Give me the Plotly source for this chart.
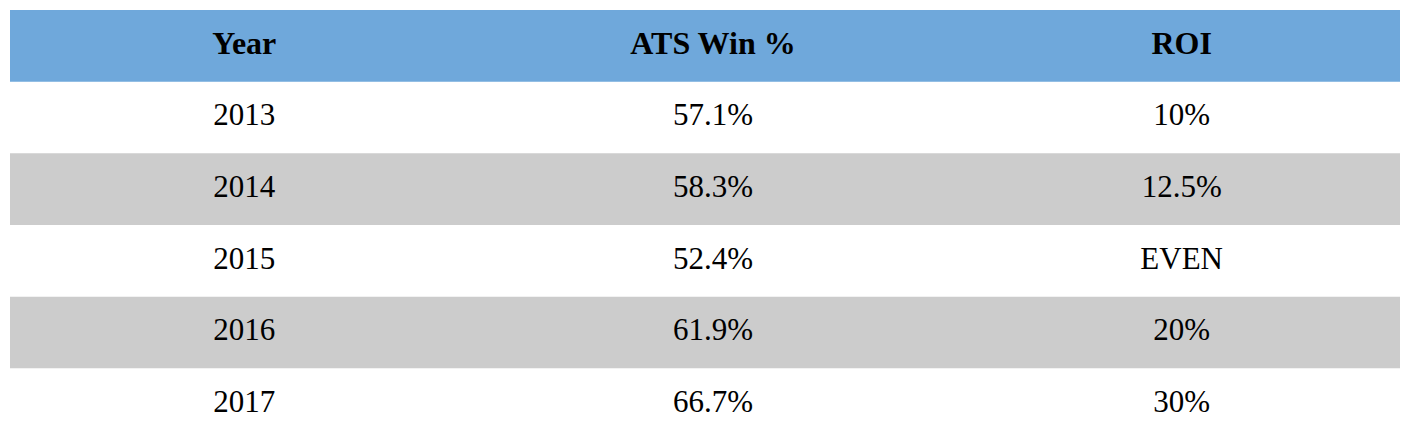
import plotly.graph_objects as go

headers = ["Year", "ATS Win %", "ROI"]
years = ["2013", "2014", "2015", "2016", "2017"]
ats_win = ["57.1%", "58.3%", "52.4%", "61.9%", "66.7%"]
roi = ["10%", "12.5%", "EVEN", "20%", "30%"]

columns = [years, ats_win, roi]
n_rows = len(years)

fig = go.Figure()

# row backgrounds: header blue, then alternating white / grey
fig.add_shape(type="rect", xref="paper", yref="y", x0=0, x1=1, y0=-0.5, y1=0.5,
              fillcolor="#6fa8db", line_width=0, layer="below")
for i in range(n_rows):
    if i % 2 == 1:
        fig.add_shape(type="rect", xref="paper", yref="y", x0=0, x1=1,
                      y0=i + 0.5, y1=i + 1.5, fillcolor="#cccccc",
                      line_width=0, layer="below")

# header text
fig.add_trace(go.Scatter(
    x=list(range(len(headers))), y=[0] * len(headers),
    text=["<b>%s</b>" % h for h in headers], mode="text",
    textfont=dict(family="Liberation Serif", size=32, color="black"),
    hoverinfo="skip", showlegend=False,
))

# body text
for c, col in enumerate(columns):
    fig.add_trace(go.Scatter(
        x=[c] * n_rows, y=list(range(1, n_rows + 1)),
        text=col, mode="text",
        textfont=dict(family="Liberation Serif", size=31, color="black"),
        hoverinfo="skip", showlegend=False,
    ))

fig.update_xaxes(range=[-0.5, 2.5], visible=False, fixedrange=True)
fig.update_yaxes(range=[n_rows + 0.5, -0.5], visible=False, fixedrange=True)

fig.update_layout(
    width=1408, height=432,
    margin=dict(l=2, r=0, t=2, b=0),
    paper_bgcolor="white", plot_bgcolor="white",
)

fig.write_html("out.html")
